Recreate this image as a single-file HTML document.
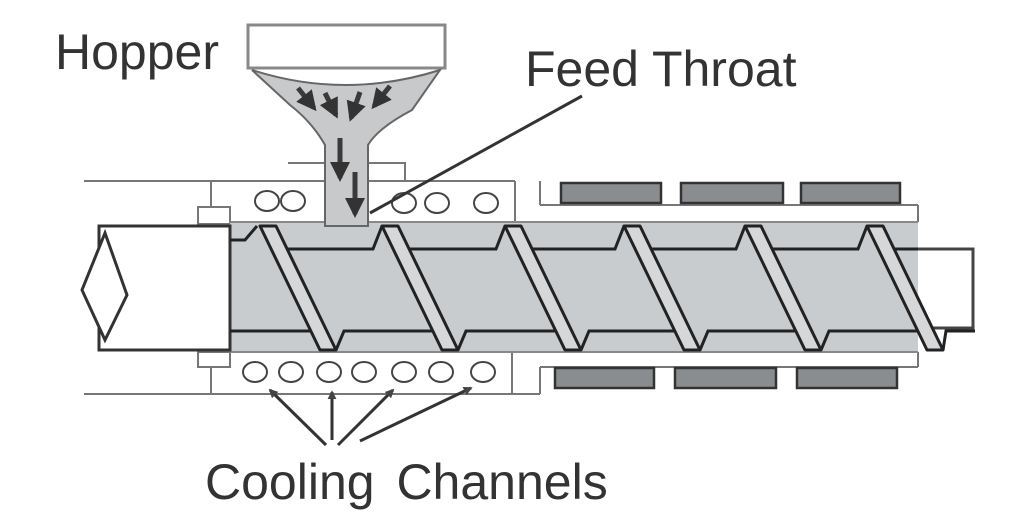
<!DOCTYPE html>
<html><head><meta charset="utf-8"><style>
html,body{margin:0;padding:0;background:#fff;}
svg{display:block;}
text{font-family:"Liberation Sans",sans-serif;fill:#333;}
</style></head><body>
<svg width="1024" height="532" viewBox="0 0 1024 532" xmlns="http://www.w3.org/2000/svg">
<defs>
<marker id="ah" viewBox="0 0 10 10" refX="8" refY="5" markerWidth="4" markerHeight="4" orient="auto"><path d="M0,0 L10,5 L0,10 Z" fill="#333"/></marker>
<marker id="ah2" viewBox="0 0 10 10" refX="8" refY="5" markerWidth="3" markerHeight="3" orient="auto"><path d="M0,0 L10,5 L0,10 Z" fill="#444"/></marker>
</defs>
<!-- labels -->
<text x="55" y="69" font-size="50">Hopper</text>
<text x="525" y="86" font-size="50">Feed Throat</text>
<text x="205" y="499" font-size="50" word-spacing="8">Cooling Channels</text>

<!-- barrel outer lines -->
<g stroke="#777" stroke-width="2" fill="none">
<line x1="84" y1="181" x2="515" y2="181"/>
<line x1="84" y1="394" x2="540" y2="394"/>
<line x1="211" y1="181" x2="211" y2="226"/>
<line x1="211" y1="352" x2="211" y2="394"/>
<rect x="198" y="207" width="32" height="17" fill="#fff"/>
<rect x="198" y="352" width="32" height="15" fill="#fff"/>
<line x1="515" y1="181" x2="515" y2="222"/>
<line x1="540" y1="181" x2="540" y2="205"/>
<line x1="540" y1="205" x2="918" y2="205"/>
<line x1="918" y1="205" x2="918" y2="222"/>
<line x1="512" y1="352" x2="512" y2="394"/>
<line x1="540" y1="367" x2="540" y2="394"/>
<line x1="540" y1="367" x2="918" y2="367"/>
<line x1="918" y1="352" x2="918" y2="367"/>
<line x1="288" y1="163" x2="325" y2="163"/>
<rect x="368" y="163" width="37" height="18" fill="#fff"/>
</g>

<!-- heaters -->
<g fill="#8a8d90" stroke="#333" stroke-width="2.5">
<rect x="561" y="183" width="100" height="20"/><rect x="681" y="183" width="102" height="20"/><rect x="801" y="183" width="99" height="20"/>
<rect x="555" y="368" width="99" height="20"/><rect x="675" y="368" width="101" height="20"/><rect x="797" y="368" width="100" height="20"/>
</g>

<!-- cooling holes -->
<g fill="#fff" stroke="#444" stroke-width="2">
<ellipse cx="267" cy="201" rx="12" ry="10"/><ellipse cx="293" cy="201" rx="12" ry="10"/>
<ellipse cx="404" cy="203" rx="12" ry="10"/><ellipse cx="437" cy="203" rx="12" ry="10"/><ellipse cx="486" cy="203" rx="12" ry="10"/>
<ellipse cx="255" cy="372" rx="12" ry="10"/><ellipse cx="291" cy="372" rx="12" ry="10"/><ellipse cx="329" cy="372" rx="12" ry="10"/><ellipse cx="364" cy="372" rx="12" ry="10"/><ellipse cx="404" cy="372" rx="12" ry="10"/><ellipse cx="441" cy="372" rx="12" ry="10"/><ellipse cx="483" cy="372" rx="12" ry="10"/>
</g>

<!-- screw channel -->
<rect x="230" y="222" width="688" height="130" fill="#c9cccf"/>
<line x1="230" y1="222" x2="918" y2="222" stroke="#888" stroke-width="2"/>
<line x1="230" y1="352" x2="918" y2="352" stroke="#888" stroke-width="2"/>
<!-- end box -->
<polyline points="918,249 973,249 973,328 918,328" fill="#fff" stroke="#444" stroke-width="3"/>
<!-- shaft -->
<rect x="99" y="226" width="131" height="124" fill="#fff" stroke="#333" stroke-width="3"/>
<polygon points="105,233 127,295 105,340 82,290" fill="#fff" stroke="#333" stroke-width="3"/>

<!-- root lines -->
<g stroke="#222" stroke-width="3" fill="none">
<polyline points="230,240 245,240 257,226"/>
<polyline points="287,249 373,249 382,226"/>
<polyline points="409,249 496,249 505,226"/>
<polyline points="532,249 615,249 624,226"/>
<polyline points="651,249 736,249 745,226"/>
<polyline points="772,249 858,249 867,226"/>
<polyline points="894,249 918,249"/>
<polyline points="230,331 310,331"/>
<polyline points="336,350 344,331 432,331"/>
<polyline points="458,350 466,331 555,331"/>
<polyline points="581,350 589,331 674,331"/>
<polyline points="700,350 708,331 795,331"/>
<polyline points="821,350 829,331 917,331"/>
<polyline points="943,350 946,331 975,331"/>
</g>
<!-- flights -->
<g fill="#d5d7d9" stroke="#222" stroke-width="3" stroke-linejoin="round">
<polygon points="260,226 276,226 336,350 320,350"/>
<polygon points="382,226 398,226 458,350 442,350"/>
<polygon points="505,226 521,226 581,350 565,350"/>
<polygon points="624,226 640,226 700,350 684,350"/>
<polygon points="745,226 761,226 821,350 805,350"/>
<polygon points="867,226 883,226 943,350 927,350"/>
</g>

<!-- hopper -->
<rect x="248" y="25" width="197" height="43" fill="#fff" stroke="#888" stroke-width="3"/>
<path d="M252,70 Q345,100 440,70 L412,110 Q378,128 368,145 L368,226 L325,226 L325,145 Q312,122 290,105 Z" fill="#c8c9cb" stroke="#666" stroke-width="2"/>
<g stroke="#3a3a3a" stroke-width="5" fill="none" marker-end="url(#ah)">
<line x1="298" y1="88" x2="314" y2="108"/>
<line x1="325" y1="93" x2="336" y2="115"/>
<line x1="360" y1="92" x2="351" y2="118"/>
<line x1="390" y1="86" x2="374" y2="106"/>
<line x1="340" y1="138" x2="340" y2="178"/>
<line x1="355" y1="172" x2="355" y2="214"/>
</g>
<!-- feed throat leader -->
<line x1="582" y1="96" x2="370" y2="213" stroke="#333" stroke-width="3"/>

<!-- cooling arrows -->
<g stroke="#333" stroke-width="3" fill="none" marker-end="url(#ah2)">
<line x1="326" y1="445" x2="270" y2="390"/>
<line x1="332" y1="440" x2="332" y2="392"/>
<line x1="338" y1="445" x2="393" y2="390"/>
<line x1="360" y1="441" x2="471" y2="388"/>
</g>
</svg>
</body></html>
